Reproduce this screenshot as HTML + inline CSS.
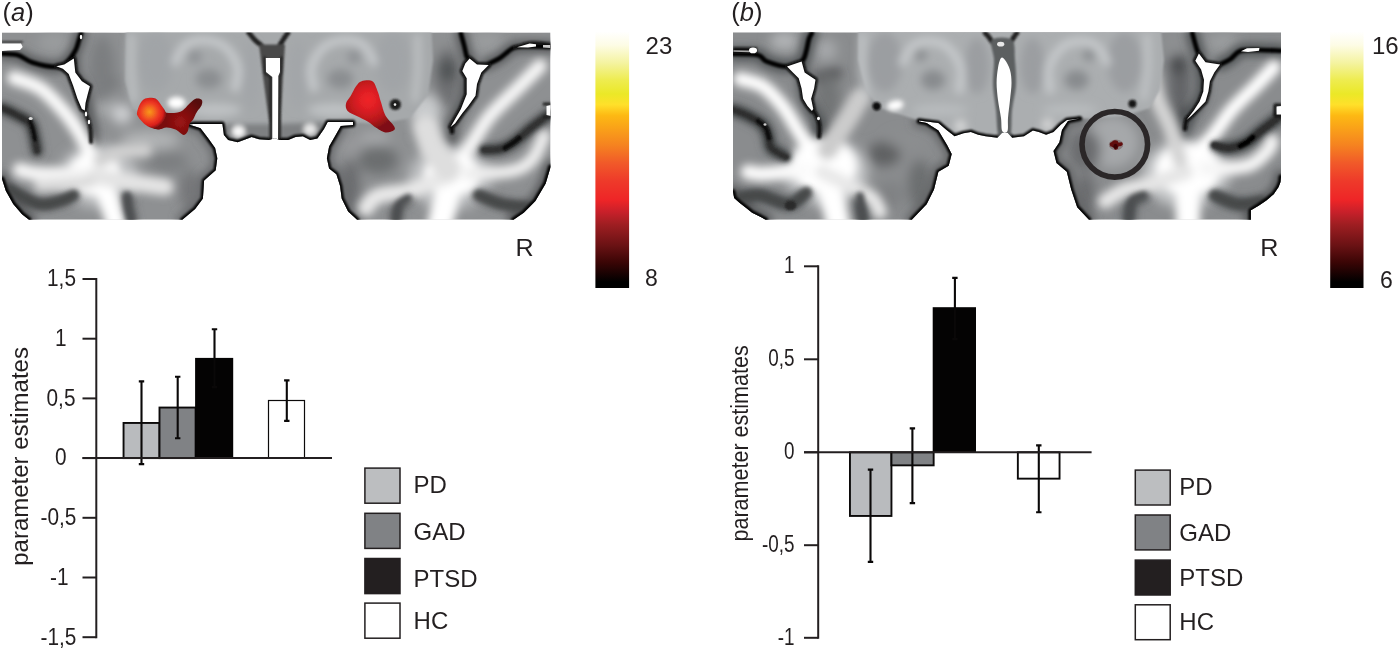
<!DOCTYPE html>
<html lang="en"><head><meta charset="utf-8"><title>Figure</title>
<style>
html,body{margin:0;padding:0;background:#fff;}
body{width:1400px;height:650px;overflow:hidden;font-family:"Liberation Sans",Arial,Helvetica,sans-serif;}
svg{display:block;}
svg text{font-family:"Liberation Sans",Arial,Helvetica,sans-serif;}
</style></head><body>
<svg width="1400" height="650" viewBox="0 0 1400 650">
<rect width="1400" height="650" fill="#fff"/>
<defs><clipPath id="clipA"><path d="M2 32.4 L550.5 32.4 L550.5 167 L550 169 L545.7 183.5 L535.4 201 L523.7 212.7 L513.5 219.7 L357.1 219.7 L348.1 211.4 L341.7 198.6 L340.1 186 L336.4 174.3 L329.1 168.5 L326.9 158.2 L329.1 146.5 L335 136.3 L340.8 126 L353 125 L353 122 L327.7 122 L324 129 L317.4 138.5 L310.1 140 L302.8 136.3 L295.5 137 L288.2 140 L279.4 140 L275 138 L269.2 140 L259 139.2 L251.6 137 L245.8 139.2 L237.7 142.2 L228.2 140 L223.9 134.9 L222.4 123.9 L193.2 123.9 L188.8 124.6 L200.5 128.3 L207.8 137.8 L215.1 148 L217.3 158.2 L215.7 170.3 L204.1 180.6 L202.9 198.6 L195.1 208.9 L182.3 219.7 L29 219.7 L22 214.2 L13.2 204 L5.8 190.8 L2 179Z"/></clipPath><filter id="b1A" x="-30%" y="-30%" width="160%" height="160%"><feGaussianBlur stdDeviation="0.7"/></filter><filter id="b2A" x="-30%" y="-30%" width="160%" height="160%"><feGaussianBlur stdDeviation="1.1"/></filter><filter id="b3A" x="-30%" y="-30%" width="160%" height="160%"><feGaussianBlur stdDeviation="2.6"/></filter><filter id="b4A" x="-30%" y="-30%" width="160%" height="160%"><feGaussianBlur stdDeviation="4"/></filter><filter id="b5A" x="-30%" y="-30%" width="160%" height="160%"><feGaussianBlur stdDeviation="6"/></filter></defs>
<g clip-path="url(#clipA)">
<rect x="2" y="32.4" width="548.5" height="187.29999999999998" fill="#8e9092"/>
<g filter="url(#b5A)">
<ellipse cx="98" cy="176" rx="40" ry="32" fill="#bcbec0"/>
<ellipse cx="450" cy="178" rx="42" ry="32" fill="#bcbec0"/>
<ellipse cx="54" cy="42" rx="16" ry="10" fill="#9a9c9e"/>
<ellipse cx="102" cy="56" rx="11" ry="14" fill="#aeb0b2"/>
<ellipse cx="104" cy="83" rx="13" ry="8" fill="#3a3c3e"/>
<ellipse cx="104" cy="106" rx="10" ry="10" fill="#a8aaac"/>
<ellipse cx="122" cy="114" rx="10" ry="10" fill="#d0d2d4"/>
<ellipse cx="150" cy="140" rx="30" ry="10" fill="#b0b2b4"/>
<ellipse cx="168" cy="162" rx="20" ry="10" fill="#7c7e80"/>
<ellipse cx="190" cy="190" rx="10" ry="20" fill="#747678"/>
<ellipse cx="487" cy="41" rx="16" ry="10" fill="#9a9c9e"/>
<ellipse cx="447" cy="78" rx="12" ry="32" fill="#6e7072"/>
<ellipse cx="448" cy="70" rx="10" ry="12" fill="#505254"/>
<ellipse cx="102" cy="70" rx="13" ry="34" fill="#7c7e80"/>
<ellipse cx="440" cy="42" rx="9" ry="9" fill="#8e9092"/>
<ellipse cx="425" cy="110" rx="16" ry="16" fill="#c8cacc"/>
<ellipse cx="378" cy="160" rx="20" ry="14" fill="#6c6e70"/>
<ellipse cx="352" cy="146" rx="12" ry="8" fill="#98999b"/>
<ellipse cx="375" cy="138" rx="16" ry="7" fill="#a4a6a8"/>
<ellipse cx="350" cy="185" rx="10" ry="25" fill="#6a6c6e"/>
</g>
<g filter="url(#b4A)">
<path d="M2.0 53.6C4.6 53.8 12.6 53.5 17.7 55.0C22.8 56.5 26.1 60.5 32.5 62.5C38.9 64.5 50.4 67.0 56.0 67.0C61.6 67.0 63.2 65.2 66.4 62.5C69.6 59.8 73.2 54.5 75.3 50.7C77.4 47.0 78.0 43.0 79.0 40.0C80.0 37.0 80.8 34.2 81.2 33.0" fill="none" stroke="#56585a" stroke-width="12" stroke-linecap="round" stroke-linejoin="round"/>
<path d="M73.8 60.0C74.0 62.5 73.6 70.7 75.0 75.0C76.4 79.3 80.2 82.2 82.0 86.0C83.8 89.8 84.9 93.1 86.0 98.0C87.1 102.9 87.7 110.7 88.6 115.6C89.5 120.5 90.9 123.3 91.5 127.4C92.1 131.5 91.9 137.9 92.0 140.0" fill="none" stroke="#56585a" stroke-width="12" stroke-linecap="round" stroke-linejoin="round"/>
<path d="M2.0 108.0C4.6 109.3 13.0 113.1 17.7 115.6C22.4 118.1 27.3 119.8 30.0 123.0C32.7 126.2 32.8 130.3 34.0 135.0C35.2 139.7 36.5 148.3 37.0 151.0" fill="none" stroke="#56585a" stroke-width="12" stroke-linecap="round" stroke-linejoin="round"/>
<path d="M9.0 189.0C13.9 191.5 29.9 202.0 38.4 204.0C46.9 206.0 54.1 202.5 60.0 201.0C65.9 199.5 71.5 196.0 73.8 195.0" fill="none" stroke="#56585a" stroke-width="12" stroke-linecap="round" stroke-linejoin="round"/>
<path d="M131.0 219.7C130.5 217.6 128.7 210.9 128.0 207.0C127.3 203.1 127.2 197.8 127.0 196.0" fill="none" stroke="#56585a" stroke-width="12" stroke-linecap="round" stroke-linejoin="round"/>
<path d="M460.8 33.0C461.3 35.0 463.0 41.1 464.0 45.0C465.0 48.9 466.2 54.7 466.7 56.6" fill="none" stroke="#56585a" stroke-width="12" stroke-linecap="round" stroke-linejoin="round"/>
<path d="M486.0 65.0C488.3 63.8 495.3 60.9 500.0 58.0C504.7 55.1 509.0 49.6 514.0 47.7C519.0 45.8 523.8 46.6 530.0 46.5C536.2 46.4 547.5 46.9 551.0 47.0" fill="none" stroke="#56585a" stroke-width="12" stroke-linecap="round" stroke-linejoin="round"/>
<path d="M469.7 59.5C469.2 62.9 467.9 73.2 467.0 80.0C466.1 86.8 465.8 94.0 464.0 100.0C462.2 106.0 458.0 111.7 456.0 116.0C454.0 120.3 452.7 122.3 452.0 126.0C451.3 129.7 452.0 136.0 452.0 138.0" fill="none" stroke="#56585a" stroke-width="12" stroke-linecap="round" stroke-linejoin="round"/>
<path d="M551.0 113.0C547.8 115.4 537.9 122.5 531.7 127.4C525.5 132.3 519.3 138.6 514.0 142.2C508.7 145.8 505.0 147.7 500.0 149.0C495.0 150.3 486.7 149.8 484.0 150.0" fill="none" stroke="#56585a" stroke-width="12" stroke-linecap="round" stroke-linejoin="round"/>
<path d="M530.0 207.0C525.3 206.5 510.6 206.0 502.0 204.0C493.4 202.0 482.4 196.5 478.5 195.0" fill="none" stroke="#56585a" stroke-width="12" stroke-linecap="round" stroke-linejoin="round"/>
<path d="M396.0 219.7C396.5 217.2 396.8 208.6 398.8 205.0C400.8 201.4 406.5 199.2 408.0 198.0" fill="none" stroke="#56585a" stroke-width="12" stroke-linecap="round" stroke-linejoin="round"/>
<path d="M550.5 167.0C550.4 167.3 550.8 166.2 550.0 169.0C549.2 171.8 548.1 178.2 545.7 183.5C543.3 188.8 539.1 196.1 535.4 201.0C531.7 205.9 527.4 209.6 523.7 212.7C520.1 215.8 515.2 218.5 513.5 219.7" fill="none" stroke="#56585a" stroke-width="14" stroke-linecap="round" stroke-linejoin="round"/>
<path d="M29.0 219.7C27.8 218.8 24.6 216.8 22.0 214.2C19.4 211.6 15.9 207.9 13.2 204.0C10.5 200.1 7.7 195.0 5.8 190.8C3.9 186.6 2.6 181.0 2.0 179.0" fill="none" stroke="#56585a" stroke-width="14" stroke-linecap="round" stroke-linejoin="round"/>
<path d="M357.1 219.7C355.6 218.3 350.7 214.9 348.1 211.4C345.5 207.9 343.0 202.8 341.7 198.6C340.4 194.4 341.0 190.1 340.1 186.0C339.2 181.9 338.2 177.2 336.4 174.3C334.6 171.4 330.7 171.2 329.1 168.5C327.5 165.8 326.9 161.9 326.9 158.2C326.9 154.5 327.8 150.2 329.1 146.5C330.5 142.8 333.1 139.7 335.0 136.3C336.9 132.9 339.8 127.7 340.8 126.0" fill="none" stroke="#66686a" stroke-width="12" stroke-linecap="round" stroke-linejoin="round"/>
<path d="M188.8 124.6C190.8 125.2 197.3 126.1 200.5 128.3C203.7 130.5 205.4 134.5 207.8 137.8C210.2 141.1 213.5 144.6 215.1 148.0C216.7 151.4 217.2 154.5 217.3 158.2C217.4 161.9 217.9 166.6 215.7 170.3C213.5 174.0 206.2 175.9 204.1 180.6C202.0 185.3 204.4 193.9 202.9 198.6C201.4 203.3 198.5 205.4 195.1 208.9C191.7 212.4 184.4 217.9 182.3 219.7" fill="none" stroke="#66686a" stroke-width="12" stroke-linecap="round" stroke-linejoin="round"/>
</g>
<g filter="url(#b4A)">
<path d="M14.0 78.0C18.6 79.8 32.8 83.2 41.3 89.0C49.8 94.8 58.5 105.2 65.0 112.7C71.5 120.2 75.5 126.5 80.0 134.0C84.5 141.6 90.0 154.0 92.0 158.0" fill="none" stroke="#fbfbfb" stroke-width="14" stroke-linecap="round" stroke-linejoin="round"/>
<ellipse cx="94" cy="174" rx="27" ry="22" fill="#ffffff"/>
<ellipse cx="93" cy="176" rx="18" ry="15" fill="#ffffff"/>
<path d="M95.0 175.0C89.2 174.9 70.0 174.8 60.0 174.5C50.0 174.2 41.7 174.2 35.0 173.5C28.3 172.8 22.5 170.6 20.0 170.0" fill="none" stroke="#f4f4f4" stroke-width="15" stroke-linecap="round" stroke-linejoin="round"/>
<path d="M97.0 172.0C98.8 176.3 104.8 189.3 108.0 198.0C111.2 206.7 114.7 219.7 116.0 224.0" fill="none" stroke="#ffffff" stroke-width="20" stroke-linecap="round" stroke-linejoin="round"/>
<path d="M95.0 176.0C100.8 177.0 118.3 180.2 130.0 182.0C141.7 183.8 159.2 186.2 165.0 187.0" fill="none" stroke="#e4e4e4" stroke-width="17" stroke-linecap="round" stroke-linejoin="round"/>
<path d="M100.0 160.0C103.7 158.7 114.5 153.7 122.0 152.0C129.5 150.3 141.2 150.3 145.0 150.0" fill="none" stroke="#d0d0d0" stroke-width="14" stroke-linecap="round" stroke-linejoin="round"/>
<path d="M40.0 186.0C45.0 185.7 61.7 184.7 70.0 184.0C78.3 183.3 86.7 182.3 90.0 182.0" fill="none" stroke="#dcdcdc" stroke-width="12" stroke-linecap="round" stroke-linejoin="round"/>
<path d="M540.0 66.0C536.2 69.8 525.3 80.7 517.0 89.0C508.7 97.3 497.7 106.7 490.3 115.6C482.9 124.5 478.5 133.3 472.6 142.2C466.7 151.1 457.9 164.4 455.0 168.8" fill="none" stroke="#f6f6f6" stroke-width="14" stroke-linecap="round" stroke-linejoin="round"/>
<ellipse cx="452" cy="175" rx="29" ry="22" fill="#ffffff"/>
<ellipse cx="451" cy="176" rx="19" ry="15" fill="#ffffff"/>
<path d="M452.0 174.0C461.3 173.6 494.7 174.0 508.0 171.7C521.3 169.4 525.7 165.9 531.7 160.0C537.7 154.1 542.0 140.0 544.0 136.0" fill="none" stroke="#eeeeee" stroke-width="13" stroke-linecap="round" stroke-linejoin="round"/>
<path d="M452.0 174.0C451.0 178.3 448.0 191.7 446.0 200.0C444.0 208.3 441.0 220.0 440.0 224.0" fill="none" stroke="#ffffff" stroke-width="25" stroke-linecap="round" stroke-linejoin="round"/>
<path d="M452.0 174.0C445.6 176.6 425.9 185.7 413.6 189.4C401.3 193.1 385.9 192.9 378.0 196.0C370.1 199.1 368.0 206.0 366.0 208.0" fill="none" stroke="#e8e8e8" stroke-width="16" stroke-linecap="round" stroke-linejoin="round"/>
<path d="M448.0 168.0C445.7 165.0 437.7 156.7 434.0 150.0C430.3 143.3 427.3 131.7 426.0 128.0" fill="none" stroke="#dedede" stroke-width="26" stroke-linecap="round" stroke-linejoin="round"/>
</g>
<g filter="url(#b2A)">
<path d="M126 20 L431 20 L433 60 L428 95 L410 118 L380 124 L354 122.5 L327 122.5 L324 129 L317.4 138.5 L310.1 141 L302.8 137 L295.5 138 L288.2 141 L259 140.5 L251.6 138 L245.8 140 L237.7 143 L228.2 141 L223.9 135 L222.4 124.5 L180 124.5 L150 122 L132 108 L125 80Z" fill="#a6a9ab"/>
</g>
<g filter="url(#b4A)">
<ellipse cx="156" cy="62" rx="17" ry="30" fill="#a1a4a7"/>
<path d="M131.5 36.0C131.4 41.7 130.6 59.3 131.0 70.0C131.4 80.7 133.5 95.0 134.0 100.0" fill="none" stroke="#c6c9cb" stroke-width="5" stroke-linecap="round" stroke-linejoin="round"/>
<path d="M175.4 62.0C177.0 59.2 180.4 49.2 185.0 45.5C189.6 41.8 196.3 39.8 203.0 40.0C209.7 40.2 219.2 42.2 225.0 46.8C230.8 51.4 236.0 60.7 237.7 67.6C239.4 74.5 235.4 84.6 235.0 88.0" fill="none" stroke="#c8cbcd" stroke-width="8" stroke-linecap="round" stroke-linejoin="round"/>
<ellipse cx="194.8" cy="57" rx="7" ry="7" fill="#8f9295"/>
<ellipse cx="208.6" cy="79" rx="13" ry="10" fill="#8b8e91"/>
<ellipse cx="251" cy="75" rx="9" ry="34" fill="#a3a6a9"/>
<ellipse cx="215" cy="110" rx="26" ry="7" fill="#bec1c3"/>
<ellipse cx="393" cy="62" rx="17" ry="30" fill="#a1a4a7"/>
<path d="M417.5 36.0C417.6 41.7 418.4 59.3 418.0 70.0C417.6 80.7 415.5 95.0 415.0 100.0" fill="none" stroke="#c6c9cb" stroke-width="5" stroke-linecap="round" stroke-linejoin="round"/>
<path d="M373.6 62.0C372.0 59.2 368.6 49.2 364.0 45.5C359.4 41.8 352.7 39.8 346.0 40.0C339.3 40.2 329.8 42.2 324.0 46.8C318.2 51.4 313.0 60.7 311.3 67.6C309.6 74.5 313.6 84.6 314.0 88.0" fill="none" stroke="#c8cbcd" stroke-width="8" stroke-linecap="round" stroke-linejoin="round"/>
<ellipse cx="354.2" cy="57" rx="7" ry="7" fill="#8f9295"/>
<ellipse cx="340.4" cy="79" rx="13" ry="10" fill="#8b8e91"/>
<ellipse cx="298" cy="75" rx="9" ry="34" fill="#a3a6a9"/>
<ellipse cx="334" cy="110" rx="26" ry="7" fill="#bec1c3"/>
</g>
<g filter="url(#b3A)">
<path d="M223 124 L272 124 L272 141 L237 143 L226 140Z" fill="#7e8082"/>
<path d="M278 124 L327 122 L322 134 L316 140 L300 138 L278 141Z" fill="#7e8082"/>
<ellipse cx="176.5" cy="102.8" rx="9" ry="6" fill="#ffffff"/>
<ellipse cx="176.5" cy="102.8" rx="5" ry="3.5" fill="#ffffff"/>
<ellipse cx="238.5" cy="131.5" rx="6.5" ry="6" fill="#f8f8f8"/>
<ellipse cx="310" cy="129.5" rx="6.5" ry="6" fill="#e6e6e6"/>
<path d="M2.0 108.0C4.6 109.3 13.0 113.1 17.7 115.6C22.4 118.1 27.3 119.8 30.0 123.0C32.7 126.2 32.8 130.3 34.0 135.0C35.2 139.7 36.5 148.3 37.0 151.0" fill="none" stroke="#3a3c3e" stroke-width="9" stroke-linecap="round" stroke-linejoin="round"/>
<path d="M551.0 113.0C547.8 115.4 537.9 122.5 531.7 127.4C525.5 132.3 519.3 138.6 514.0 142.2C508.7 145.8 505.0 147.7 500.0 149.0C495.0 150.3 486.7 149.8 484.0 150.0" fill="none" stroke="#3a3c3e" stroke-width="9" stroke-linecap="round" stroke-linejoin="round"/>
<path d="M9.0 189.0C13.9 191.5 29.9 202.0 38.4 204.0C46.9 206.0 54.1 202.5 60.0 201.0C65.9 199.5 71.5 196.0 73.8 195.0" fill="none" stroke="#46484a" stroke-width="10" stroke-linecap="round" stroke-linejoin="round"/>
<path d="M530.0 207.0C525.3 206.5 510.6 206.0 502.0 204.0C493.4 202.0 482.4 196.5 478.5 195.0" fill="none" stroke="#46484a" stroke-width="10" stroke-linecap="round" stroke-linejoin="round"/>
<path d="M131.0 219.7C130.5 217.6 128.7 210.9 128.0 207.0C127.3 203.1 127.2 197.8 127.0 196.0" fill="none" stroke="#4c4e50" stroke-width="8" stroke-linecap="round" stroke-linejoin="round"/>
<path d="M396.0 219.7C396.5 217.2 396.8 208.6 398.8 205.0C400.8 201.4 406.5 199.2 408.0 198.0" fill="none" stroke="#4c4e50" stroke-width="8" stroke-linecap="round" stroke-linejoin="round"/>
</g>
<g filter="url(#b2A)">
<path d="M550.5 167 L550 169 L545.7 183.5 L535.4 201 L523.7 212.7 L513.5 219.7" fill="none" stroke="#060606" stroke-width="5" stroke-linecap="round" stroke-linejoin="round"/>
<path d="M357.1 219.7 L348.1 211.4 L341.7 198.6 L340.1 186 L336.4 174.3 L329.1 168.5 L326.9 158.2 L329.1 146.5 L335 136.3 L340.8 126 L353 125 L353 122 L327.7 122 L324 129 L317.4 138.5 L310.1 140 L302.8 136.3 L295.5 137 L288.2 140 L279.4 140 L275 138 L269.2 140 L259 139.2 L251.6 137 L245.8 139.2 L237.7 142.2 L228.2 140 L223.9 134.9 L222.4 123.9 L193.2 123.9 L188.8 124.6 L200.5 128.3 L207.8 137.8 L215.1 148 L217.3 158.2 L215.7 170.3 L204.1 180.6 L202.9 198.6 L195.1 208.9 L182.3 219.7" fill="none" stroke="#060606" stroke-width="4.6" stroke-linecap="round" stroke-linejoin="round"/>
<path d="M29 219.7 L22 214.2 L13.2 204 L5.8 190.8 L2 179" fill="none" stroke="#060606" stroke-width="5" stroke-linecap="round" stroke-linejoin="round"/>
<path d="M2.0 53.6C4.6 53.8 12.6 53.5 17.7 55.0C22.8 56.5 26.1 60.5 32.5 62.5C38.9 64.5 50.4 67.0 56.0 67.0C61.6 67.0 63.2 65.2 66.4 62.5C69.6 59.8 73.2 54.5 75.3 50.7C77.4 47.0 78.0 43.0 79.0 40.0C80.0 37.0 80.8 34.2 81.2 33.0" fill="none" stroke="#060606" stroke-width="4.6" stroke-linecap="round" stroke-linejoin="round"/>
<path d="M2 42 L22 42" fill="none" stroke="#333" stroke-width="2" stroke-linecap="round" stroke-linejoin="round"/>
<path d="M56.3 66.3 L64.3 64.4 L73.8 58.5 L75.3 72.4 L81.9 81.2 L89.9 86.3 L87.7 94.3 L85.5 103.1 L84.8 110.4 L81.9 109 L77.5 98.7 L73.1 85.6 L68.7 73.9 L62.9 68.7Z" fill="#0c0c0c"/>
<path d="M56.3 66.3 L64.3 64.4 L73.8 58.5 L75.3 72.4 L81.9 81.2 L89.9 86.3 L87.7 94.3 L85.5 103.1 L84.8 110.4 L81.9 109 L77.5 98.7 L73.1 85.6 L68.7 73.9 L62.9 68.7 L56.3 66.3" fill="none" stroke="#080808" stroke-width="5" stroke-linecap="round" stroke-linejoin="round"/>
<path d="M84.8 108.0C85.0 109.0 85.3 111.7 86.0 114.0C86.7 116.3 88.2 119.2 89.0 122.0C89.8 124.8 90.3 127.7 90.6 131.0C90.9 134.3 90.9 140.2 91.0 142.0" fill="none" stroke="#161616" stroke-width="3.8" stroke-linecap="round" stroke-linejoin="round"/>
<path d="M2.0 108.0C4.6 109.3 13.0 113.1 17.7 115.6C22.4 118.1 27.3 119.8 30.0 123.0C32.7 126.2 32.8 130.3 34.0 135.0C35.2 139.7 36.5 148.3 37.0 151.0" fill="none" stroke="#2e2e2e" stroke-width="5" stroke-linecap="round" stroke-linejoin="round"/>
<path d="M30.0 121.0C30.5 122.5 32.2 126.8 33.0 130.0C33.8 133.2 34.7 138.3 35.0 140.0" fill="none" stroke="#111" stroke-width="4" stroke-linecap="round" stroke-linejoin="round"/>
<path d="M248.7 32.6C249.8 33.8 252.8 37.8 255.0 40.0C257.2 42.2 260.8 45.0 262.0 46.0" fill="none" stroke="#222" stroke-width="5" stroke-linecap="round" stroke-linejoin="round"/>
<path d="M288.0 32.6C287.2 33.8 284.4 37.8 283.0 40.0C281.6 42.2 280.0 45.0 279.4 46.0" fill="none" stroke="#222" stroke-width="5" stroke-linecap="round" stroke-linejoin="round"/>
<path d="M259 44.6 L285 44.6 L283 76 L280.5 125 L280.5 139 L269.5 139 L269.5 125 L263 76Z" fill="#4a4a4a"/>
<path d="M270.6 76 L270.8 139" fill="none" stroke="#1c1c1c" stroke-width="2.4" stroke-linecap="butt" stroke-linejoin="round"/>
<path d="M279.8 76 L279.6 139" fill="none" stroke="#1c1c1c" stroke-width="2.4" stroke-linecap="butt" stroke-linejoin="round"/>
<path d="M264.6 57 L264.6 73 L270.6 77" fill="none" stroke="#1c1c1c" stroke-width="2.2" stroke-linecap="round" stroke-linejoin="round"/>
<path d="M281.4 57 L281.4 73 L279.8 77" fill="none" stroke="#1c1c1c" stroke-width="2.2" stroke-linecap="round" stroke-linejoin="round"/>
<path d="M460.8 33.0C461.3 35.0 463.0 41.1 464.0 45.0C465.0 48.9 466.2 54.7 466.7 56.6" fill="none" stroke="#060606" stroke-width="4.6" stroke-linecap="round" stroke-linejoin="round"/>
<path d="M486.0 65.0C488.3 63.8 495.3 60.9 500.0 58.0C504.7 55.1 509.0 49.6 514.0 47.7C519.0 45.8 523.8 46.6 530.0 46.5C536.2 46.4 547.5 46.9 551.0 47.0" fill="none" stroke="#060606" stroke-width="4.6" stroke-linecap="round" stroke-linejoin="round"/>
<path d="M469.6 58.5 L477 64.4 L488.7 65.1 L481.3 72.4 L477 84.1 L475.5 95.8 L468.2 106 L462.3 113.3 L455 123.6 L450.6 127 L460.9 109 L466.7 94.3 L466.7 78.2 L462.3 70.9 L465.3 63.6Z" fill="#0c0c0c"/>
<path d="M469.6 58.5 L477 64.4 L488.7 65.1 L481.3 72.4 L477 84.1 L475.5 95.8 L468.2 106 L462.3 113.3 L455 123.6 L450.6 127 L460.9 109 L466.7 94.3 L466.7 78.2 L462.3 70.9 L465.3 63.6 L469.6 58.5" fill="none" stroke="#080808" stroke-width="5" stroke-linecap="round" stroke-linejoin="round"/>
<path d="M515.0 47.5C517.4 46.8 523.8 43.6 529.6 43.0C535.4 42.4 546.6 43.8 550.0 44.0" fill="none" stroke="#111" stroke-width="3" stroke-linecap="round" stroke-linejoin="round"/>
<path d="M452 124 L452 132" fill="none" stroke="#111" stroke-width="4.5" stroke-linecap="round" stroke-linejoin="round"/>
<path d="M551.0 113.0C547.8 115.4 537.9 122.5 531.7 127.4C525.5 132.3 519.3 138.6 514.0 142.2C508.7 145.8 505.0 147.7 500.0 149.0C495.0 150.3 486.7 149.8 484.0 150.0" fill="none" stroke="#333" stroke-width="5" stroke-linecap="round" stroke-linejoin="round"/>
<path d="M505.0 148.0C506.4 147.1 511.2 144.2 513.5 142.5C515.8 140.8 518.1 138.8 519.0 138.0" fill="none" stroke="#080808" stroke-width="5.5" stroke-linecap="round" stroke-linejoin="round"/>
<ellipse cx="395.3" cy="104.5" rx="5.6" ry="5.6" fill="#1c1c1c"/>
<path d="M544 104 L550 104" fill="none" stroke="#222" stroke-width="3" stroke-linecap="round" stroke-linejoin="round"/>
<path d="M544 117 L550 117" fill="none" stroke="#222" stroke-width="3" stroke-linecap="round" stroke-linejoin="round"/>
</g>
<g filter="url(#b1A)">
<path d="M2 43.5 L21 43.5 L22.7 47 L20 50 L8 50.5 L2 51Z" fill="#fff"/>
<path d="M56.3 66.3 L64.3 64.4 L73.8 58.5 L75.3 72.4 L81.9 81.2 L89.9 86.3 L87.7 94.3 L85.5 103.1 L84.8 110.4 L81.9 109 L77.5 98.7 L73.1 85.6 L68.7 73.9 L62.9 68.7Z" fill="#fff"/>
<ellipse cx="81" cy="37" rx="1.2" ry="2.2" fill="#fff"/>
<ellipse cx="86" cy="114" rx="1.2" ry="2.5" fill="#fff"/>
<ellipse cx="89" cy="122" rx="1.2" ry="2.2" fill="#fff"/>
<ellipse cx="30.7" cy="118.5" rx="2" ry="1.5" fill="#ddd"/>
<path d="M265.8 58 L280 58 L280 72 L278.3 76 L278 139 L272.3 139 L272.3 77 L266 72Z" fill="#fff"/>
<path d="M469.6 58.5 L477 64.4 L488.7 65.1 L481.3 72.4 L477 84.1 L475.5 95.8 L468.2 106 L462.3 113.3 L455 123.6 L450.6 127 L460.9 109 L466.7 94.3 L466.7 78.2 L462.3 70.9 L465.3 63.6Z" fill="#fff"/>
<path d="M517 47.3 L529.6 43.6 L536 44.2 L536 46.5 L528 47.5Z" fill="#fff"/>
<path d="M543 45 L550.5 45 L550.5 48 L543 47.5Z" fill="#ccc"/>
<path d="M546.5 106 L551 105 L551 116 L546.5 115Z" fill="#fff"/>
<ellipse cx="395" cy="104.6" rx="1.3" ry="1.3" fill="#eee"/>
</g>
<defs><radialGradient id="actLA" gradientUnits="userSpaceOnUse" cx="149.5" cy="112" r="17"><stop offset="0" stop-color="#f8981d"/><stop offset="0.25" stop-color="#f4711f"/><stop offset="0.55" stop-color="#ee3a22"/><stop offset="0.8" stop-color="#d8201c"/><stop offset="1" stop-color="#7a1010"/></radialGradient><radialGradient id="actTA" gradientUnits="userSpaceOnUse" cx="180" cy="122" r="26"><stop offset="0" stop-color="#9c1414"/><stop offset="0.5" stop-color="#7c0e0e"/><stop offset="1" stop-color="#560909"/></radialGradient><radialGradient id="actRA" gradientUnits="userSpaceOnUse" cx="368" cy="100" r="30"><stop offset="0" stop-color="#f02428"/><stop offset="0.3" stop-color="#e01f24"/><stop offset="0.7" stop-color="#b8181c"/><stop offset="1" stop-color="#7e1012"/></radialGradient></defs>
<g filter="url(#b1A)">
<path d="M160.0 108.0C162.8 106.1 163.2 112.1 166.6 112.7C170.0 113.3 176.6 113.3 180.4 111.8C184.2 110.3 187.1 105.7 189.6 103.5C192.1 101.3 193.2 99.5 195.2 98.9C197.2 98.3 200.5 98.7 201.6 99.8C202.7 100.9 202.4 103.3 201.6 105.3C200.8 107.3 198.4 109.5 197.0 111.8C195.6 114.1 194.5 117.2 193.3 119.2C192.1 121.2 190.5 121.8 189.6 123.8C188.7 125.8 188.7 129.3 187.8 131.2C186.9 133.0 185.3 134.6 184.1 134.9C182.9 135.2 181.9 133.9 180.4 133.0C178.9 132.1 177.2 130.2 174.9 129.3C172.6 128.4 169.5 127.5 166.6 127.5C163.7 127.5 160.1 129.9 157.3 129.3C154.5 128.7 149.6 127.5 150.0 124.0C150.4 120.5 157.2 109.9 160.0 108.0Z" fill="url(#actTA)"/>
<path d="M137.0 112.7C137.3 110.6 138.6 106.3 140.0 104.0C141.4 101.7 142.7 99.5 145.3 98.6C147.9 97.7 152.7 97.1 155.5 98.4C158.3 99.7 160.2 103.8 162.0 106.2C163.8 108.6 165.2 110.4 166.0 113.0C166.8 115.6 167.5 119.5 167.0 122.0C166.5 124.5 164.6 126.8 163.0 128.0C161.4 129.2 159.8 129.5 157.3 129.3C154.8 129.1 150.7 128.0 148.1 126.6C145.5 125.2 143.3 122.7 141.6 121.0C139.9 119.3 138.8 117.8 138.0 116.4C137.2 115.0 136.7 114.8 137.0 112.7Z" fill="url(#actLA)"/>
<path d="M361.6 81.3C364.3 80.5 369.7 79.6 372.4 81.3C375.1 83.0 376.3 88.0 377.7 91.5C379.1 95.0 379.7 98.3 381.0 102.3C382.3 106.2 383.2 111.2 385.3 115.2C387.4 119.2 392.5 123.5 393.9 126.0C395.3 128.5 395.3 129.2 393.9 130.3C392.5 131.4 388.2 132.8 385.3 132.4C382.4 132.0 379.6 129.9 376.7 128.1C373.8 126.3 371.2 123.7 368.0 121.7C364.8 119.7 360.7 118.1 357.3 116.3C353.9 114.5 349.5 113.1 347.6 110.9C345.7 108.8 345.5 105.9 346.0 103.4C346.5 100.9 349.1 98.7 350.8 95.8C352.5 92.9 354.4 88.5 356.2 86.1C358.0 83.7 358.9 82.1 361.6 81.3Z" fill="url(#actRA)"/>
</g>
</g>
<defs><clipPath id="clipB"><path d="M733 32.3 L1281 32.3 L1281 177 L1280.5 182 L1278.6 186.9 L1273.7 194.3 L1266.3 200.4 L1258.9 205.4 L1250.9 210.3 L1250.9 219.7 L1089 219.7 L1077.2 207.2 L1071.2 189.4 L1066.8 171.7 L1056.5 162.9 L1053.5 151 L1059.4 142.2 L1062 130 L1068 121 L1080.1 118.6 L1066.8 120 L1060.9 124.5 L1053.5 131.9 L1046.1 134.8 L1038.8 131.9 L1032.9 130.4 L1024 136.3 L1012.2 137.8 L1007.8 133 L1004.8 131.9 L1001.9 133 L997.4 137.8 L985.6 136.3 L978.2 134.8 L970.9 131.9 L963.5 133.3 L954.6 136.3 L947.2 130.4 L938.4 123 L926.6 121.5 L919 120.5 L919 121.5 L926.6 123 L938.4 130.4 L947.2 145.2 L951.7 154 L948.7 165.8 L938.4 171.7 L934 189.4 L926.6 204.2 L911.8 219.7 L765.6 219.7 L760.7 217.1 L752.1 212.8 L745.9 207.8 L739.8 202.9 L734.2 198 L733 191.8Z"/></clipPath><filter id="b1B" x="-30%" y="-30%" width="160%" height="160%"><feGaussianBlur stdDeviation="0.7"/></filter><filter id="b2B" x="-30%" y="-30%" width="160%" height="160%"><feGaussianBlur stdDeviation="1.1"/></filter><filter id="b3B" x="-30%" y="-30%" width="160%" height="160%"><feGaussianBlur stdDeviation="2.6"/></filter><filter id="b4B" x="-30%" y="-30%" width="160%" height="160%"><feGaussianBlur stdDeviation="4"/></filter><filter id="b5B" x="-30%" y="-30%" width="160%" height="160%"><feGaussianBlur stdDeviation="6"/></filter></defs>
<g clip-path="url(#clipB)">
<rect x="733" y="32.3" width="548" height="187.39999999999998" fill="#8a8c8e"/>
<g filter="url(#b5B)">
<ellipse cx="826" cy="172" rx="42" ry="34" fill="#c4c6c8"/>
<ellipse cx="1186" cy="174" rx="44" ry="34" fill="#c4c6c8"/>
<ellipse cx="785" cy="42" rx="16" ry="10" fill="#9a9c9e"/>
<ellipse cx="826" cy="50" rx="11" ry="11" fill="#a6a8aa"/>
<ellipse cx="826" cy="97" rx="9" ry="8" fill="#9a9c9e"/>
<ellipse cx="784" cy="40" rx="13" ry="8" fill="#b4b6b8"/>
<ellipse cx="1224" cy="40" rx="13" ry="8" fill="#b0b2b4"/>
<ellipse cx="827" cy="76" rx="15" ry="6.5" fill="#303234" transform="rotate(-15 827 76)"/>
<ellipse cx="822" cy="132" rx="8" ry="8" fill="#3c3e40"/>
<ellipse cx="884" cy="154" rx="16" ry="12" fill="#5e6062"/>
<ellipse cx="905" cy="140" rx="18" ry="8" fill="#8c8e90"/>
<ellipse cx="920" cy="185" rx="12" ry="25" fill="#6c6e70"/>
<ellipse cx="890" cy="195" rx="14" ry="14" fill="#808284"/>
<ellipse cx="1222" cy="42" rx="16" ry="10" fill="#9a9c9e"/>
<ellipse cx="1180" cy="85" rx="11" ry="32" fill="#626466"/>
<ellipse cx="1178" cy="65" rx="9" ry="9" fill="#444648"/>
<ellipse cx="828" cy="100" rx="12" ry="28" fill="#727476"/>
<ellipse cx="1185" cy="116" rx="8" ry="8" fill="#444648"/>
<ellipse cx="1172" cy="42" rx="9" ry="9" fill="#8e9092"/>
<ellipse cx="1112" cy="142" rx="27" ry="26" fill="#a6a8aa"/>
<ellipse cx="1085" cy="150" rx="16" ry="20" fill="#6a6c6e"/>
<ellipse cx="1085" cy="195" rx="10" ry="22" fill="#6a6c6e"/>
</g>
<g filter="url(#b4B)">
<path d="M733.0 54.0C737.1 54.1 752.2 53.7 757.8 54.9C763.4 56.1 761.6 59.5 766.5 61.4C771.4 63.3 781.1 66.5 787.0 66.5C792.9 66.5 798.4 63.8 801.6 61.4C804.8 59.0 804.8 55.8 806.0 52.0C807.2 48.2 808.0 42.0 809.0 38.8C810.0 35.6 811.4 34.0 811.9 33.0" fill="none" stroke="#505254" stroke-width="13" stroke-linecap="round" stroke-linejoin="round"/>
<path d="M801.6 63.0C801.8 65.8 802.3 74.2 803.0 80.0C803.7 85.8 804.5 93.0 806.0 98.0C807.5 103.0 809.9 106.2 812.0 110.0C814.1 113.8 817.2 117.0 818.5 121.0C819.8 125.0 819.3 131.8 819.5 134.0" fill="none" stroke="#505254" stroke-width="13" stroke-linecap="round" stroke-linejoin="round"/>
<path d="M733.0 109.7C735.5 110.7 742.8 113.1 747.7 115.6C752.6 118.1 759.0 121.0 762.5 124.5C766.0 128.0 766.9 132.4 768.4 136.3C769.9 140.2 768.4 144.6 771.3 148.0C774.2 151.4 783.5 155.5 786.0 157.0" fill="none" stroke="#505254" stroke-width="13" stroke-linecap="round" stroke-linejoin="round"/>
<path d="M735.9 198.3C739.8 197.8 750.6 194.3 759.5 195.3C768.4 196.3 781.1 204.8 789.0 204.2C796.9 203.6 803.8 194.0 806.8 192.0" fill="none" stroke="#505254" stroke-width="13" stroke-linecap="round" stroke-linejoin="round"/>
<path d="M863.0 219.7C862.7 217.6 861.5 210.9 861.0 207.0C860.5 203.1 860.2 197.8 860.0 196.0" fill="none" stroke="#505254" stroke-width="13" stroke-linecap="round" stroke-linejoin="round"/>
<path d="M1192.3 33.0C1193.0 35.7 1195.6 45.5 1196.7 49.0C1197.8 52.5 1198.6 53.2 1199.0 54.0" fill="none" stroke="#505254" stroke-width="13" stroke-linecap="round" stroke-linejoin="round"/>
<path d="M1220.1 64.4C1221.8 63.5 1227.0 61.5 1230.4 59.2C1233.8 56.9 1235.7 52.3 1240.6 50.8C1245.5 49.3 1252.9 50.0 1259.6 50.0C1266.3 50.0 1277.4 50.6 1281.0 50.7" fill="none" stroke="#505254" stroke-width="13" stroke-linecap="round" stroke-linejoin="round"/>
<path d="M1199.0 58.0C1199.7 61.7 1202.7 73.5 1203.0 80.0C1203.3 86.5 1202.8 91.8 1201.0 97.0C1199.2 102.2 1194.8 107.4 1192.3 111.2C1189.8 115.0 1187.2 116.9 1186.0 120.0C1184.8 123.1 1185.2 128.3 1185.0 130.0" fill="none" stroke="#505254" stroke-width="13" stroke-linecap="round" stroke-linejoin="round"/>
<path d="M1281.0 115.6C1277.8 118.1 1267.4 126.0 1261.7 130.4C1256.0 134.8 1252.3 139.3 1246.9 142.2C1241.5 145.1 1234.6 147.5 1229.2 148.0C1223.8 148.5 1216.9 145.7 1214.4 145.2" fill="none" stroke="#505254" stroke-width="13" stroke-linecap="round" stroke-linejoin="round"/>
<path d="M1261.7 201.2C1257.8 201.7 1245.9 205.2 1238.0 204.2C1230.1 203.2 1218.3 196.8 1214.4 195.3" fill="none" stroke="#505254" stroke-width="13" stroke-linecap="round" stroke-linejoin="round"/>
<path d="M1128.8 219.7C1129.3 216.6 1129.3 205.3 1131.8 201.2C1134.3 197.1 1141.6 196.3 1143.6 195.3" fill="none" stroke="#505254" stroke-width="13" stroke-linecap="round" stroke-linejoin="round"/>
<path d="M1281.0 177.0C1280.9 177.8 1280.9 180.3 1280.5 182.0C1280.1 183.7 1279.7 184.8 1278.6 186.9C1277.5 189.0 1275.8 192.1 1273.7 194.3C1271.7 196.6 1268.8 198.6 1266.3 200.4C1263.8 202.2 1261.5 203.8 1258.9 205.4C1256.3 207.1 1252.2 207.9 1250.9 210.3C1249.6 212.7 1250.9 218.1 1250.9 219.7" fill="none" stroke="#56585a" stroke-width="14" stroke-linecap="round" stroke-linejoin="round"/>
<path d="M765.6 219.7C764.8 219.3 763.0 218.2 760.7 217.1C758.5 215.9 754.6 214.4 752.1 212.8C749.6 211.2 748.0 209.5 745.9 207.8C743.8 206.2 741.8 204.5 739.8 202.9C737.8 201.3 735.3 199.8 734.2 198.0C733.1 196.2 733.2 192.8 733.0 191.8" fill="none" stroke="#56585a" stroke-width="14" stroke-linecap="round" stroke-linejoin="round"/>
<path d="M1089.0 219.7C1087.0 217.6 1080.2 212.2 1077.2 207.2C1074.2 202.1 1072.9 195.3 1071.2 189.4C1069.5 183.5 1069.2 176.1 1066.8 171.7C1064.3 167.3 1058.7 166.3 1056.5 162.9C1054.3 159.5 1053.0 154.4 1053.5 151.0C1054.0 147.6 1058.0 145.7 1059.4 142.2C1060.8 138.7 1060.6 133.5 1062.0 130.0C1063.4 126.5 1065.0 122.9 1068.0 121.0C1071.0 119.1 1078.1 119.0 1080.1 118.6" fill="none" stroke="#606264" stroke-width="12" stroke-linecap="round" stroke-linejoin="round"/>
<path d="M919.0 121.5C920.3 121.8 923.4 121.5 926.6 123.0C929.8 124.5 935.0 126.7 938.4 130.4C941.8 134.1 945.0 141.3 947.2 145.2C949.4 149.1 951.5 150.6 951.7 154.0C952.0 157.4 950.9 162.9 948.7 165.8C946.5 168.8 940.9 167.8 938.4 171.7C935.9 175.6 936.0 184.0 934.0 189.4C932.0 194.8 930.3 199.1 926.6 204.2C922.9 209.2 914.3 217.1 911.8 219.7" fill="none" stroke="#606264" stroke-width="12" stroke-linecap="round" stroke-linejoin="round"/>
</g>
<g filter="url(#b4B)">
<path d="M740.0 79.0C743.8 80.2 755.3 81.5 762.5 86.1C769.7 90.7 777.2 99.4 783.1 106.8C789.0 114.2 793.1 122.9 797.9 130.4C802.7 137.9 809.6 148.4 812.0 152.0" fill="none" stroke="#ffffff" stroke-width="14" stroke-linecap="round" stroke-linejoin="round"/>
<ellipse cx="824" cy="166" rx="33" ry="27" fill="#ffffff"/>
<ellipse cx="822" cy="166" rx="22" ry="18" fill="#ffffff"/>
<path d="M822.0 168.0C816.7 168.6 800.0 170.5 790.0 171.5C780.0 172.5 769.0 173.9 762.0 174.0C755.0 174.1 750.3 172.3 748.0 172.0" fill="none" stroke="#fbfbfb" stroke-width="15" stroke-linecap="round" stroke-linejoin="round"/>
<path d="M822.0 168.0C823.7 173.0 829.3 188.7 832.0 198.0C834.7 207.3 837.0 219.7 838.0 224.0" fill="none" stroke="#ffffff" stroke-width="24" stroke-linecap="round" stroke-linejoin="round"/>
<path d="M822.0 172.0C826.7 174.3 841.7 181.7 850.0 186.0C858.3 190.3 867.0 193.7 872.0 198.0C877.0 202.3 878.7 209.7 880.0 212.0" fill="none" stroke="#e8e8e8" stroke-width="14" stroke-linecap="round" stroke-linejoin="round"/>
<path d="M827.4 150.0C830.8 144.8 842.6 127.3 848.0 118.6C853.4 109.9 858.0 101.4 860.0 98.0" fill="none" stroke="#cccccc" stroke-width="20" stroke-linecap="round" stroke-linejoin="round"/>
<path d="M1274.0 67.0C1271.0 70.2 1262.8 79.0 1255.8 86.1C1248.8 93.2 1239.0 101.8 1232.1 109.7C1225.2 117.6 1220.3 125.9 1214.4 133.3C1208.5 140.7 1199.7 150.6 1196.7 154.0" fill="none" stroke="#ffffff" stroke-width="14" stroke-linecap="round" stroke-linejoin="round"/>
<ellipse cx="1188" cy="170" rx="33" ry="26" fill="#ffffff"/>
<ellipse cx="1188" cy="168" rx="22" ry="17" fill="#ffffff"/>
<path d="M1190.0 168.0C1195.0 168.1 1210.3 169.3 1220.3 168.8C1230.3 168.3 1242.0 168.1 1249.9 165.0C1257.9 161.9 1264.3 154.0 1268.0 150.0C1271.7 146.0 1271.3 142.5 1272.0 141.0" fill="none" stroke="#f6f6f6" stroke-width="14" stroke-linecap="round" stroke-linejoin="round"/>
<path d="M1188.0 170.0C1188.0 175.0 1188.0 191.0 1188.0 200.0C1188.0 209.0 1188.0 220.0 1188.0 224.0" fill="none" stroke="#ffffff" stroke-width="24" stroke-linecap="round" stroke-linejoin="round"/>
<path d="M1186.0 172.0C1180.4 173.9 1162.4 180.6 1152.4 183.5C1142.4 186.4 1133.8 186.5 1125.9 189.4C1118.0 192.3 1108.7 199.2 1105.2 201.2" fill="none" stroke="#e6e6e6" stroke-width="15" stroke-linecap="round" stroke-linejoin="round"/>
<path d="M1180.0 160.0C1178.3 154.6 1173.7 137.2 1170.0 127.4C1166.3 117.6 1160.9 109.5 1158.0 100.9C1155.1 92.3 1153.3 80.2 1152.4 76.0" fill="none" stroke="#d4d4d4" stroke-width="15" stroke-linecap="round" stroke-linejoin="round"/>
</g>
<g filter="url(#b2B)">
<path d="M858 20 L1160 20 L1164 60 L1160 90 L1150 108 L1125 116 L1090 118.6 L1080.1 118.6 L1066.8 120 L1060.9 124.5 L1053.5 131.9 L1046.1 134.8 L1038.8 131.9 L1032.9 130.4 L1024 136.3 L1012.2 137.8 L1007.8 133 L1004.8 131.9 L1001.9 133 L997.4 137.8 L985.6 136.3 L978.2 134.8 L970.9 131.9 L963.5 133.3 L954.6 136.3 L947.2 130.4 L938.4 123 L926.6 121.5 L919 120.5 L905 116 L880 108 L866 92 L858 60Z" fill="#abaeb0"/>
</g>
<g filter="url(#b4B)">
<ellipse cx="885" cy="62" rx="17" ry="30" fill="#9b9ea1"/>
<path d="M862.5 36.0C862.4 41.7 861.4 59.7 862.0 70.0C862.6 80.3 865.3 93.3 866.0 98.0" fill="none" stroke="#c8cbcd" stroke-width="5" stroke-linecap="round" stroke-linejoin="round"/>
<path d="M902.6 62.0C904.2 59.5 908.1 50.2 912.3 46.8C916.5 43.3 921.8 41.3 927.6 41.3C933.4 41.3 941.5 42.4 947.0 46.8C952.5 51.2 958.7 60.4 960.8 67.6C962.9 74.8 959.6 86.3 959.4 90.0" fill="none" stroke="#c8cbcd" stroke-width="8" stroke-linecap="round" stroke-linejoin="round"/>
<ellipse cx="920.6" cy="55" rx="6.5" ry="6.5" fill="#8c8f92"/>
<ellipse cx="933" cy="80" rx="12" ry="10" fill="#888b8e"/>
<ellipse cx="977" cy="66" rx="12" ry="28" fill="#9b9ea1"/>
<ellipse cx="940" cy="110" rx="28" ry="6" fill="#b8bbbd"/>
<ellipse cx="1124.6" cy="62" rx="17" ry="30" fill="#9b9ea1"/>
<path d="M1147.1 36.0C1147.2 41.7 1148.2 59.7 1147.6 70.0C1147.0 80.3 1144.3 93.3 1143.6 98.0" fill="none" stroke="#c8cbcd" stroke-width="5" stroke-linecap="round" stroke-linejoin="round"/>
<path d="M1107.0 62.0C1105.4 59.5 1101.5 50.2 1097.3 46.8C1093.1 43.3 1087.8 41.3 1082.0 41.3C1076.2 41.3 1068.1 42.4 1062.6 46.8C1057.1 51.2 1050.9 60.4 1048.8 67.6C1046.7 74.8 1050.0 86.3 1050.2 90.0" fill="none" stroke="#c8cbcd" stroke-width="8" stroke-linecap="round" stroke-linejoin="round"/>
<ellipse cx="1089.0" cy="55" rx="6.5" ry="6.5" fill="#8c8f92"/>
<ellipse cx="1076.6" cy="80" rx="12" ry="10" fill="#888b8e"/>
<ellipse cx="1032.6" cy="66" rx="12" ry="28" fill="#9b9ea1"/>
<ellipse cx="1069.6" cy="110" rx="28" ry="6" fill="#b8bbbd"/>
<ellipse cx="960.5" cy="126" rx="5.5" ry="5.5" fill="#e2e2e2"/>
<ellipse cx="1047.6" cy="124.5" rx="5.5" ry="5.5" fill="#dedede"/>
</g>
<g filter="url(#b3B)">
<ellipse cx="895.2" cy="105.3" rx="8.5" ry="5" fill="#ffffff" transform="rotate(-12 895.2 105.3)"/>
<path d="M733.0 109.7C735.5 110.7 742.8 113.1 747.7 115.6C752.6 118.1 759.0 121.0 762.5 124.5C766.0 128.0 766.9 132.4 768.4 136.3C769.9 140.2 768.4 144.6 771.3 148.0C774.2 151.4 783.5 155.5 786.0 157.0" fill="none" stroke="#3a3c3e" stroke-width="9" stroke-linecap="round" stroke-linejoin="round"/>
<path d="M1281.0 115.6C1277.8 118.1 1267.4 126.0 1261.7 130.4C1256.0 134.8 1252.3 139.3 1246.9 142.2C1241.5 145.1 1234.6 147.5 1229.2 148.0C1223.8 148.5 1216.9 145.7 1214.4 145.2" fill="none" stroke="#3a3c3e" stroke-width="9" stroke-linecap="round" stroke-linejoin="round"/>
<path d="M735.9 198.3C739.8 197.8 750.6 194.3 759.5 195.3C768.4 196.3 781.1 204.8 789.0 204.2C796.9 203.6 803.8 194.0 806.8 192.0" fill="none" stroke="#46484a" stroke-width="10" stroke-linecap="round" stroke-linejoin="round"/>
<path d="M1261.7 201.2C1257.8 201.7 1245.9 205.2 1238.0 204.2C1230.1 203.2 1218.3 196.8 1214.4 195.3" fill="none" stroke="#46484a" stroke-width="10" stroke-linecap="round" stroke-linejoin="round"/>
<path d="M863.0 219.7C862.7 217.6 861.5 210.9 861.0 207.0C860.5 203.1 860.2 197.8 860.0 196.0" fill="none" stroke="#4c4e50" stroke-width="8" stroke-linecap="round" stroke-linejoin="round"/>
<path d="M1128.8 219.7C1129.3 216.6 1129.3 205.3 1131.8 201.2C1134.3 197.1 1141.6 196.3 1143.6 195.3" fill="none" stroke="#4c4e50" stroke-width="8" stroke-linecap="round" stroke-linejoin="round"/>
</g>
<g filter="url(#b2B)">
<path d="M1281 177 L1280.5 182 L1278.6 186.9 L1273.7 194.3 L1266.3 200.4 L1258.9 205.4 L1250.9 210.3 L1250.9 219.7" fill="none" stroke="#060606" stroke-width="5" stroke-linecap="round" stroke-linejoin="round"/>
<path d="M1089 219.7 L1077.2 207.2 L1071.2 189.4 L1066.8 171.7 L1056.5 162.9 L1053.5 151 L1059.4 142.2 L1062 130 L1068 121 L1080.1 118.6 L1066.8 120 L1060.9 124.5 L1053.5 131.9 L1046.1 134.8 L1038.8 131.9 L1032.9 130.4 L1024 136.3 L1012.2 137.8 L1007.8 133 L1004.8 131.9 L1001.9 133 L997.4 137.8 L985.6 136.3 L978.2 134.8 L970.9 131.9 L963.5 133.3 L954.6 136.3 L947.2 130.4 L938.4 123 L926.6 121.5 L919 120.5 L919 121.5 L926.6 123 L938.4 130.4 L947.2 145.2 L951.7 154 L948.7 165.8 L938.4 171.7 L934 189.4 L926.6 204.2 L911.8 219.7" fill="none" stroke="#060606" stroke-width="4.6" stroke-linecap="round" stroke-linejoin="round"/>
<path d="M765.6 219.7 L760.7 217.1 L752.1 212.8 L745.9 207.8 L739.8 202.9 L734.2 198 L733 191.8" fill="none" stroke="#060606" stroke-width="5" stroke-linecap="round" stroke-linejoin="round"/>
<path d="M733.0 54.0C737.1 54.1 752.2 53.7 757.8 54.9C763.4 56.1 761.6 59.5 766.5 61.4C771.4 63.3 781.1 66.5 787.0 66.5C792.9 66.5 798.4 63.8 801.6 61.4C804.8 59.0 804.8 55.8 806.0 52.0C807.2 48.2 808.0 42.0 809.0 38.8C810.0 35.6 811.4 34.0 811.9 33.0" fill="none" stroke="#060606" stroke-width="4.6" stroke-linecap="round" stroke-linejoin="round"/>
<path d="M787 66.5 L801.6 61.4 L804.6 72.4 L815.5 79.7 L814.1 88.5 L811.1 98.7 L813.3 109 L811.9 111.1 L807.5 106 L803.1 98.7 L801.6 88.5 L798.7 78.2 L792.9 72.4Z" fill="#0c0c0c"/>
<path d="M787 66.5 L801.6 61.4 L804.6 72.4 L815.5 79.7 L814.1 88.5 L811.1 98.7 L813.3 109 L811.9 111.1 L807.5 106 L803.1 98.7 L801.6 88.5 L798.7 78.2 L792.9 72.4 L787 66.5" fill="none" stroke="#080808" stroke-width="4.6" stroke-linecap="round" stroke-linejoin="round"/>
<path d="M812.0 109.0C812.7 110.0 814.9 112.8 816.0 115.0C817.1 117.2 818.2 119.5 818.8 122.0C819.4 124.5 819.5 127.5 819.5 130.0C819.5 132.5 819.1 135.8 819.0 137.0" fill="none" stroke="#101010" stroke-width="4.2" stroke-linecap="round" stroke-linejoin="round"/>
<path d="M733.0 109.7C735.5 110.7 742.8 113.1 747.7 115.6C752.6 118.1 759.0 121.0 762.5 124.5C766.0 128.0 766.9 132.4 768.4 136.3C769.9 140.2 768.4 144.6 771.3 148.0C774.2 151.4 783.5 155.5 786.0 157.0" fill="none" stroke="#2e2e2e" stroke-width="5" stroke-linecap="round" stroke-linejoin="round"/>
<path d="M758.0 121.0C759.3 122.2 764.2 125.2 766.0 128.0C767.8 130.8 768.5 136.3 769.0 138.0" fill="none" stroke="#080808" stroke-width="5" stroke-linecap="round" stroke-linejoin="round"/>
<ellipse cx="790.5" cy="205.5" rx="6" ry="5" fill="#262626" opacity="0.85"/>
<ellipse cx="876.7" cy="106.2" rx="4.2" ry="4.2" fill="#0c0c0c"/>
<ellipse cx="1132.4" cy="103.8" rx="4" ry="4" fill="#151515"/>
<path d="M985.0 32.6C986.0 33.8 989.2 37.4 991.0 40.0C992.8 42.6 995.2 46.7 996.0 48.0" fill="none" stroke="#222" stroke-width="5" stroke-linecap="round" stroke-linejoin="round"/>
<path d="M1017.0 32.6C1016.2 33.8 1013.5 37.4 1012.0 40.0C1010.5 42.6 1008.7 46.7 1008.0 48.0" fill="none" stroke="#222" stroke-width="5" stroke-linecap="round" stroke-linejoin="round"/>
<path d="M992.0 40.0C995.0 36.7 1008.2 36.7 1012.0 40.0C1015.8 43.3 1014.3 52.5 1015.0 60.0C1015.7 67.5 1016.5 76.7 1016.0 85.0C1015.5 93.3 1013.0 101.3 1012.0 110.0C1011.0 118.7 1012.2 132.5 1010.0 137.0C1007.8 141.5 1001.3 141.5 999.0 137.0C996.7 132.5 997.0 118.7 996.0 110.0C995.0 101.3 993.3 93.3 993.0 85.0C992.7 76.7 994.2 67.5 994.0 60.0C993.8 52.5 989.0 43.3 992.0 40.0Z" fill="#5c5e60"/>
<path d="M1192.3 33.0C1193.0 35.7 1195.6 45.5 1196.7 49.0C1197.8 52.5 1198.6 53.2 1199.0 54.0" fill="none" stroke="#060606" stroke-width="4.6" stroke-linecap="round" stroke-linejoin="round"/>
<path d="M1220.1 64.4C1221.8 63.5 1227.0 61.5 1230.4 59.2C1233.8 56.9 1235.7 52.3 1240.6 50.8C1245.5 49.3 1252.9 50.0 1259.6 50.0C1266.3 50.0 1277.4 50.6 1281.0 50.7" fill="none" stroke="#060606" stroke-width="4.6" stroke-linecap="round" stroke-linejoin="round"/>
<path d="M1198.9 53.4 L1205.5 62.2 L1220.1 64.4 L1214.3 72.4 L1209.9 81.2 L1208.4 91.4 L1205.5 101.6 L1198.2 109 L1190.9 116.3 L1186.5 119.9 L1193.8 110.4 L1199.6 101.6 L1203.3 91.4 L1204 79.7 L1201.1 69.5 L1195.3 60.7Z" fill="#0c0c0c"/>
<path d="M1198.9 53.4 L1205.5 62.2 L1220.1 64.4 L1214.3 72.4 L1209.9 81.2 L1208.4 91.4 L1205.5 101.6 L1198.2 109 L1190.9 116.3 L1186.5 119.9 L1193.8 110.4 L1199.6 101.6 L1203.3 91.4 L1204 79.7 L1201.1 69.5 L1195.3 60.7 L1198.9 53.4" fill="none" stroke="#080808" stroke-width="4.6" stroke-linecap="round" stroke-linejoin="round"/>
<path d="M1187.0 118.0C1186.8 119.0 1185.8 122.2 1185.5 124.0C1185.2 125.8 1185.1 128.2 1185.0 129.0" fill="none" stroke="#111" stroke-width="4.2" stroke-linecap="round" stroke-linejoin="round"/>
<path d="M1281.0 115.6C1277.8 118.1 1267.4 126.0 1261.7 130.4C1256.0 134.8 1252.3 139.3 1246.9 142.2C1241.5 145.1 1234.6 147.5 1229.2 148.0C1223.8 148.5 1216.9 145.7 1214.4 145.2" fill="none" stroke="#2e2e2e" stroke-width="6" stroke-linecap="round" stroke-linejoin="round"/>
<path d="M1240.0 146.0C1241.2 145.4 1244.7 143.7 1246.9 142.2C1249.1 140.7 1252.0 137.9 1253.0 137.0" fill="none" stroke="#060606" stroke-width="5.5" stroke-linecap="round" stroke-linejoin="round"/>
<path d="M1275 105 L1281 105 L1275 105 L1275 116 L1281 116" fill="none" stroke="#161616" stroke-width="3" stroke-linecap="round" stroke-linejoin="round"/>
<path d="M733 50.5 L757 50.8" fill="none" stroke="#0c0c0c" stroke-width="6.5" stroke-linecap="butt" stroke-linejoin="round"/>
</g>
<g filter="url(#b1B)">
<path d="M734 51 L749 51.4" fill="none" stroke="#a8a8a8" stroke-width="1.6" stroke-linecap="round" stroke-linejoin="round"/>
<ellipse cx="753" cy="50.4" rx="4" ry="2.8" fill="#fff"/>
<path d="M787 66.5 L801.6 61.4 L804.6 72.4 L815.5 79.7 L814.1 88.5 L811.1 98.7 L813.3 109 L811.9 111.1 L807.5 106 L803.1 98.7 L801.6 88.5 L798.7 78.2 L792.9 72.4Z" fill="#fff"/>
<ellipse cx="818.5" cy="118.5" rx="1.5" ry="1.8" fill="#fff"/>
<ellipse cx="765" cy="124.5" rx="1.5" ry="1.2" fill="#ccc"/>
<path d="M1001.0 58.0C1002.2 56.7 1003.5 58.0 1005.0 60.0C1006.5 62.0 1008.9 66.2 1010.0 70.0C1011.1 73.8 1011.5 78.0 1011.5 83.0C1011.5 88.0 1010.6 94.2 1010.0 100.0C1009.4 105.8 1008.4 112.8 1008.0 118.0C1007.6 123.2 1008.5 128.8 1007.5 131.0C1006.5 133.2 1003.3 133.2 1002.2 131.0C1001.1 128.8 1001.7 123.2 1001.0 118.0C1000.3 112.8 998.7 105.8 998.0 100.0C997.3 94.2 996.6 88.3 996.6 83.0C996.6 77.7 997.3 72.2 998.0 68.0C998.7 63.8 999.8 59.3 1001.0 58.0Z" fill="#fff"/>
<ellipse cx="1000.7" cy="44.2" rx="3.6" ry="2.4" fill="#e8e8e8"/>
<path d="M1198.9 53.4 L1205.5 62.2 L1220.1 64.4 L1214.3 72.4 L1209.9 81.2 L1208.4 91.4 L1205.5 101.6 L1198.2 109 L1190.9 116.3 L1186.5 119.9 L1193.8 110.4 L1199.6 101.6 L1203.3 91.4 L1204 79.7 L1201.1 69.5 L1195.3 60.7Z" fill="#fff"/>
<path d="M1241 51.2 L1247 48.3 L1259.4 48 L1259 50.8 L1248 52Z" fill="#fff"/>
<path d="M1276.6 106.6 L1281.5 106 L1281.5 114.4 L1276.6 114.4Z" fill="#fff"/>
</g>
<g filter="url(#b1B)">
<ellipse cx="1116" cy="144.8" rx="7.2" ry="5.2" fill="#4a1a1c" opacity="0.3"/>
<path d="M1109.8 143.6C1110.0 142.8 1111.2 142.4 1112.0 141.8C1112.8 141.2 1113.6 140.5 1114.5 140.3C1115.4 140.1 1116.8 140.3 1117.5 140.7C1118.2 141.1 1117.8 142.2 1118.5 142.5C1119.2 142.8 1120.8 142.0 1121.5 142.3C1122.2 142.6 1122.9 143.6 1122.8 144.2C1122.7 144.8 1121.7 145.6 1121.0 146.0C1120.3 146.4 1119.1 146.1 1118.5 146.6C1117.9 147.1 1118.2 148.5 1117.6 149.0C1117.0 149.5 1115.7 150.0 1115.0 149.8C1114.3 149.6 1114.2 148.1 1113.5 147.6C1112.8 147.1 1111.2 147.3 1110.6 146.6C1110.0 145.9 1109.6 144.4 1109.8 143.6Z" fill="#620c10"/>
<ellipse cx="1115.5" cy="146.3" rx="2.2" ry="2.6" fill="#3c0406"/>
</g>
</g>
<circle cx="1114.8" cy="144.3" r="32.8" fill="none" stroke="#2b2728" stroke-width="5.6"/>
<defs><linearGradient id="cbA" x1="0" y1="0" x2="0" y2="1"><stop offset="0.0000" stop-color="#ffffff"/><stop offset="0.0526" stop-color="#fdfce6"/><stop offset="0.1228" stop-color="#f4f3a0"/><stop offset="0.1891" stop-color="#eeec50"/><stop offset="0.2437" stop-color="#ebe827"/><stop offset="0.2854" stop-color="#ffe02a"/><stop offset="0.3271" stop-color="#fdb913"/><stop offset="0.4444" stop-color="#f58220"/><stop offset="0.5119" stop-color="#f15a29"/><stop offset="0.5828" stop-color="#ee3a2a"/><stop offset="0.6569" stop-color="#ee2527"/><stop offset="0.7037" stop-color="#c8202a"/><stop offset="0.7505" stop-color="#a01e22"/><stop offset="0.8339" stop-color="#6a1214"/><stop offset="0.9010" stop-color="#3a0505"/><stop offset="0.9766" stop-color="#000000"/><stop offset="1.0000" stop-color="#000000"/></linearGradient></defs><rect x="595.4" y="31.5" width="33.7" height="256.5" fill="url(#cbA)"/>
<defs><linearGradient id="cbB" x1="0" y1="0" x2="0" y2="1"><stop offset="0.0000" stop-color="#ffffff"/><stop offset="0.0526" stop-color="#fdfce6"/><stop offset="0.1228" stop-color="#f4f3a0"/><stop offset="0.1891" stop-color="#eeec50"/><stop offset="0.2437" stop-color="#ebe827"/><stop offset="0.2854" stop-color="#ffe02a"/><stop offset="0.3271" stop-color="#fdb913"/><stop offset="0.4444" stop-color="#f58220"/><stop offset="0.5119" stop-color="#f15a29"/><stop offset="0.5828" stop-color="#ee3a2a"/><stop offset="0.6569" stop-color="#ee2527"/><stop offset="0.7037" stop-color="#c8202a"/><stop offset="0.7505" stop-color="#a01e22"/><stop offset="0.8339" stop-color="#6a1214"/><stop offset="0.9010" stop-color="#3a0505"/><stop offset="0.9766" stop-color="#000000"/><stop offset="1.0000" stop-color="#000000"/></linearGradient></defs><rect x="1330.2" y="31.5" width="33.3" height="256.5" fill="url(#cbB)"/>
<text x="2.5" y="20.5" font-size="25.5" fill="#231f20">(<tspan font-style="italic">a</tspan>)</text>
<text x="731.2" y="20.5" font-size="25.5" fill="#231f20">(<tspan font-style="italic">b</tspan>)</text>
<text transform="translate(515.6 255.6) scale(1.07 1)" font-size="23.5" text-anchor="start" fill="#231f20" >R</text>
<text transform="translate(1260.2 255.6) scale(1.07 1)" font-size="23.5" text-anchor="start" fill="#231f20" >R</text>
<text transform="translate(645.6 54) scale(1.0 1)" font-size="24" text-anchor="start" fill="#231f20" >23</text>
<text transform="translate(645 286.3) scale(1.0 1)" font-size="23" text-anchor="start" fill="#231f20" >8</text>
<text transform="translate(1372 54) scale(1.0 1)" font-size="24" text-anchor="start" fill="#231f20" >16</text>
<text transform="translate(1380 288) scale(1.0 1)" font-size="23" text-anchor="start" fill="#231f20" >6</text>
<g id="chartA">
<rect x="123.55" y="422.95" width="35.95" height="35.15" fill="#b9bbbe" stroke="#0c0a0a" stroke-width="1.9"/>
<rect x="159.5" y="407.55" width="36.1" height="50.55" fill="#808285" stroke="#0c0a0a" stroke-width="1.9"/>
<rect x="195.1" y="357.9" width="38.1" height="100.2" fill="#040303"/>
<rect x="268.5" y="400.5" width="36.0" height="57.6" fill="#fff" stroke="#0c0a0a" stroke-width="1.2"/>
<path d="M141.5 380.5V465M138.8 381.4h5.4M138.8 464.1h5.4" stroke="#0a0808" stroke-width="2.1" fill="none"/>
<path d="M177.7 375.8V439.2M175.0 376.7h5.4M175.0 438.3h5.4" stroke="#0a0808" stroke-width="2.1" fill="none"/>
<path d="M214.5 328.4V388M211.8 329.29999999999995h5.4M211.8 387.1h5.4" stroke="#0a0808" stroke-width="2.1" fill="none"/>
<path d="M286.8 379.5V421.8M284.1 380.4h5.4M284.1 420.90000000000003h5.4" stroke="#0a0808" stroke-width="2.1" fill="none"/>
<path d="M96.3 278V638.2" stroke="#231f20" stroke-width="2" fill="none"/>
<path d="M82.5 279H96.3" stroke="#231f20" stroke-width="2" fill="none"/>
<path d="M82.5 338.7H96.3" stroke="#231f20" stroke-width="2" fill="none"/>
<path d="M82.5 398.4H96.3" stroke="#231f20" stroke-width="2" fill="none"/>
<path d="M82.5 458.1H96.3" stroke="#231f20" stroke-width="2" fill="none"/>
<path d="M82.5 517.8H96.3" stroke="#231f20" stroke-width="2" fill="none"/>
<path d="M82.5 577.5H96.3" stroke="#231f20" stroke-width="2" fill="none"/>
<path d="M82.5 637.2H96.3" stroke="#231f20" stroke-width="2" fill="none"/>
<path d="M82.5 458.1H332" stroke="#231f20" stroke-width="2" fill="none"/>
<text transform="translate(61.5 286.3) scale(0.85 1)" font-size="24.5" text-anchor="middle" fill="#231f20" >1,5</text>
<text transform="translate(60.8 346.0) scale(0.85 1)" font-size="24.5" text-anchor="middle" fill="#231f20" >1</text>
<text transform="translate(61 405.7) scale(0.85 1)" font-size="24.5" text-anchor="middle" fill="#231f20" >0,5</text>
<text transform="translate(60.8 465.40000000000003) scale(0.85 1)" font-size="24.5" text-anchor="middle" fill="#231f20" >0</text>
<text transform="translate(58.4 525.0999999999999) scale(0.85 1)" font-size="24.5" text-anchor="middle" fill="#231f20" >-0,5</text>
<text transform="translate(59.2 584.8) scale(0.85 1)" font-size="24.5" text-anchor="middle" fill="#231f20" >-1</text>
<text transform="translate(58.4 644.5) scale(0.85 1)" font-size="24.5" text-anchor="middle" fill="#231f20" >-1,5</text>
<text transform="translate(27.7 456.4) rotate(-90) scale(0.976 1)" font-size="24.6" text-anchor="middle" fill="#231f20">parameter estimates</text>
<rect x="364.9" y="468.1" width="35.1" height="35.1" fill="#bcbec0" stroke="#231f20" stroke-width="1.5"/>
<text transform="translate(413.6 493) scale(1.0 1)" font-size="24" text-anchor="start" fill="#231f20" >PD</text>
<rect x="364.9" y="513.3" width="35.1" height="35.1" fill="#808285" stroke="#231f20" stroke-width="1.5"/>
<text transform="translate(413.6 539.8) scale(1.0 1)" font-size="24" text-anchor="start" fill="#231f20" >GAD</text>
<rect x="364.9" y="558.5" width="35.1" height="35.1" fill="#231f20" stroke="#231f20" stroke-width="1.5"/>
<text transform="translate(413.6 586.5) scale(1.0 1)" font-size="24" text-anchor="start" fill="#231f20" >PTSD</text>
<rect x="364.9" y="603.1" width="35.1" height="35.1" fill="#fff" stroke="#231f20" stroke-width="1.5"/>
<text transform="translate(413.6 628.8) scale(1.0 1)" font-size="24" text-anchor="start" fill="#231f20" >HC</text>
</g>
<g id="chartB">
<rect x="849.95" y="452.3" width="41.5" height="63.65" fill="#b9bbbe" stroke="#0c0a0a" stroke-width="1.9"/>
<rect x="891.45" y="452.3" width="42.2" height="13.05" fill="#808285" stroke="#0c0a0a" stroke-width="1.9"/>
<rect x="932.7" y="307.2" width="43.3" height="145.1" fill="#040303"/>
<rect x="1017.85" y="452.3" width="41.7" height="26.35" fill="#fff" stroke="#0c0a0a" stroke-width="1.9"/>
<path d="M870.5 468.7V562.8M867.8 469.59999999999997h5.4M867.8 561.9h5.4" stroke="#0a0808" stroke-width="2.1" fill="none"/>
<path d="M912.4 427.5V504M909.6999999999999 428.4h5.4M909.6999999999999 503.1h5.4" stroke="#0a0808" stroke-width="2.1" fill="none"/>
<path d="M954.9 277V340M952.1999999999999 277.9h5.4M952.1999999999999 339.1h5.4" stroke="#0a0808" stroke-width="2.1" fill="none"/>
<path d="M1038.8 444.5V513.1M1036.1 445.4h5.4M1036.1 512.2h5.4" stroke="#0a0808" stroke-width="2.1" fill="none"/>
<path d="M818.2 265.3V638.8" stroke="#231f20" stroke-width="2" fill="none"/>
<path d="M804 266.3H818.2" stroke="#231f20" stroke-width="2" fill="none"/>
<path d="M804 359.3H818.2" stroke="#231f20" stroke-width="2" fill="none"/>
<path d="M804 452.3H818.2" stroke="#231f20" stroke-width="2" fill="none"/>
<path d="M804 545.2H818.2" stroke="#231f20" stroke-width="2" fill="none"/>
<path d="M804 637.8H818.2" stroke="#231f20" stroke-width="2" fill="none"/>
<path d="M804 452.3H1091.6" stroke="#231f20" stroke-width="2" fill="none"/>
<text transform="translate(794.5 273.3) scale(0.77 1)" font-size="24.5" text-anchor="end" fill="#231f20" >1</text>
<text transform="translate(794.5 366.3) scale(0.77 1)" font-size="24.5" text-anchor="end" fill="#231f20" >0,5</text>
<text transform="translate(794.5 459.3) scale(0.77 1)" font-size="24.5" text-anchor="end" fill="#231f20" >0</text>
<text transform="translate(794.5 552.2) scale(0.77 1)" font-size="24.5" text-anchor="end" fill="#231f20" >-0,5</text>
<text transform="translate(794.5 644.8) scale(0.77 1)" font-size="24.5" text-anchor="end" fill="#231f20" >-1</text>
<text transform="translate(747.6 443.4) rotate(-90) scale(0.876 1)" font-size="24.6" text-anchor="middle" fill="#231f20">parameter estimates</text>
<rect x="1135.3" y="470.1" width="34.9" height="34.9" fill="#bcbec0" stroke="#231f20" stroke-width="1.5"/>
<text transform="translate(1179.3 494.5) scale(1.0 1)" font-size="24" text-anchor="start" fill="#231f20" >PD</text>
<rect x="1135.3" y="515.0" width="34.9" height="34.9" fill="#808285" stroke="#231f20" stroke-width="1.5"/>
<text transform="translate(1179.3 541) scale(1.0 1)" font-size="24" text-anchor="start" fill="#231f20" >GAD</text>
<rect x="1135.3" y="560.1" width="34.9" height="34.9" fill="#231f20" stroke="#231f20" stroke-width="1.5"/>
<text transform="translate(1179.3 585.8) scale(1.0 1)" font-size="24" text-anchor="start" fill="#231f20" >PTSD</text>
<rect x="1135.3" y="604.8" width="34.9" height="34.9" fill="#fff" stroke="#231f20" stroke-width="1.5"/>
<text transform="translate(1179.3 630.1) scale(1.0 1)" font-size="24" text-anchor="start" fill="#231f20" >HC</text>
</g>
</svg>
</body></html>
